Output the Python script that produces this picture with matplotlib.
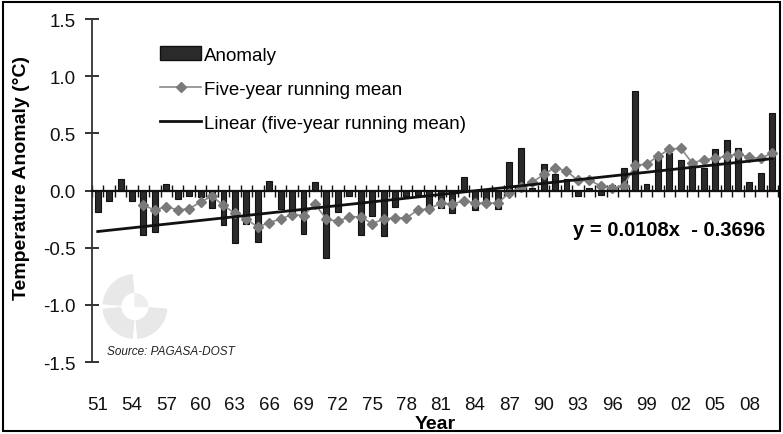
import matplotlib
matplotlib.use("Agg")
import matplotlib.pyplot as plt
import numpy as np
from matplotlib.patches import Rectangle, Wedge
from matplotlib.lines import Line2D

plt.rcParams['font.family'] = ['Liberation Sans', 'DejaVu Sans']
plt.rcParams['axes.unicode_minus'] = False

years = list(range(1951, 2011))
anomaly = [-0.19, -0.09, 0.10, -0.09, -0.39, -0.36, 0.06, -0.07, -0.05, -0.06,
           -0.15, -0.30, -0.46, -0.29, -0.45, 0.08, -0.16, -0.21, -0.38, 0.07,
           -0.59, -0.19, -0.05, -0.39, -0.22, -0.40, -0.14, -0.05, -0.04, -0.17,
           -0.15, -0.20, 0.12, -0.17, -0.13, -0.16, 0.25, 0.37, 0.02, 0.23,
           0.14, 0.10, -0.05, 0.02, -0.04, 0.05, 0.20, 0.87, 0.06, 0.31,
           0.33, 0.27, 0.23, 0.20, 0.36, 0.44, 0.37, 0.07, 0.15, 0.68]
running_mean = [None, None, None, None, -0.13, -0.17, -0.14, -0.17, -0.16, -0.10,
                -0.05, -0.13, -0.20, -0.25, -0.32, -0.28, -0.25, -0.21, -0.22, -0.12,
                -0.25, -0.27, -0.23, -0.23, -0.29, -0.25, -0.24, -0.24, -0.17, -0.16,
                -0.11, -0.12, -0.09, -0.11, -0.11, -0.11, -0.02, 0.03, 0.07, 0.14,
                0.20, 0.17, 0.09, 0.09, 0.04, 0.02, 0.04, 0.22, 0.23, 0.30,
                0.36, 0.37, 0.24, 0.27, 0.28, 0.30, 0.32, 0.29, 0.28, 0.33]
trend_slope = 0.0108
trend_intercept = -0.3696
tick_labels = ['51', '54', '57', '60', '63', '66', '69', '72', '75', '78',
               '81', '84', '87', '90', '93', '96', '99', '02', '05', '08']

W, H = 783, 435
fig = plt.figure(figsize=(W / 100, H / 100), dpi=100)
ax = fig.add_axes([92 / W, 1 - 363 / H, 686 / W, 343 / H])

idx = np.arange(len(years))
ax.bar(idx, anomaly, width=0.52, color='#2a2a2a', edgecolor='#111111', linewidth=0.8,
       label='Anomaly', zorder=3)
rm = np.array([np.nan if v is None else v for v in running_mean], dtype=float)
ax.plot(idx, rm, color='#8a8a8a', lw=1.2, marker='D', markersize=5.5,
        markerfacecolor='#7a7a7a', markeredgecolor='#7a7a7a',
        label='Five-year running mean', zorder=4)
tx = np.array([idx[0], idx[-1]])
ax.plot(tx, trend_slope * (tx + 1) + trend_intercept, color='#111111', lw=2,
        label='Linear (five-year running mean)', zorder=5)

ax.set_xlim(-0.5, len(years) - 0.5)
ax.set_ylim(-1.5, 1.5)
ax.set_yticks([-1.5, -1.0, -0.5, 0.0, 0.5, 1.0, 1.5])
ax.set_yticklabels(['-1.5', '-1.0', '-0.5', '0.0', '0.5', '1.0', '1.5'])
ax.tick_params(axis='y', direction='inout', length=10, width=1.2, pad=7,
               labelsize=13.5, colors='#111111')

# x axis at zero with boundary ticks
ax.spines['top'].set_visible(False)
ax.spines['right'].set_visible(False)
ax.spines['bottom'].set_position(('data', 0))
ax.spines['bottom'].set_linewidth(1.6)
ax.spines['bottom'].set_color('#111111')
ax.spines['bottom'].set_zorder(6)
ax.spines['left'].set_linewidth(1.3)
ax.spines['left'].set_color('#333333')
ax.set_xticks(np.arange(-0.5, len(years), 1.0))
ax.tick_params(axis='x', direction='inout', length=8, width=1, labelbottom=False,
               colors='#111111')

sec = ax.secondary_xaxis(-0.1)
sec.set_xticks(idx[::3])
sec.set_xticklabels(tick_labels)
sec.tick_params(length=0, pad=0, labelsize=13.5, colors='#111111')
sec.spines['bottom'].set_visible(False)
sec.set_xlabel('Year', fontsize=14, fontweight='bold', labelpad=1)

ax.set_ylabel('Temperature Anomaly (°C)', fontsize=14, fontweight='bold')
ax.yaxis.set_label_coords(-0.09, 0.54)

ax.text(0.701, 0.385, 'y = 0.0108x  - 0.3696', transform=ax.transAxes,
        fontsize=14.5, fontweight='bold', ha='left', va='center')
ax.text(0.022, 0.032, 'Source: PAGASA-DOST', transform=ax.transAxes,
        fontsize=8.5, fontstyle='italic', ha='left', va='center', color='#222222')

handles = [Rectangle((0, 0), 1, 1, facecolor='#2a2a2a', edgecolor='#111111'),
           Line2D([], [], color='#8a8a8a', lw=1.2, marker='D', markersize=5.5,
                  markerfacecolor='#7a7a7a', markeredgecolor='#7a7a7a'),
           Line2D([], [], color='#111111', lw=2)]
ax.legend(handles, ['Anomaly', 'Five-year running mean', 'Linear (five-year running mean)'],
          loc='upper left', bbox_to_anchor=(0.099, 0.92), frameon=False,
          fontsize=13.5, borderpad=0, borderaxespad=0, handlelength=2.2,
          handletextpad=0.15, labelspacing=0.9)

# faint logo watermark
lax = fig.add_axes([100 / W, 1 - 345 / H, 70 / W, 75 / H])
lax.set_xlim(-1.1, 1.1)
lax.set_ylim(-1.1, 1.1)
lax.set_aspect('equal')
lax.axis('off')
for t1, t2 in [(95, 175), (185, 265), (275, 355)]:
    lax.add_patch(Wedge((0, 0), 1.0, t1, t2, width=0.55, color='#e8e8e8'))
lax.add_patch(Wedge((0, 0), 0.4, 0, 90, color='#eeeeee'))

fig.add_artist(Rectangle((3 / W, 3 / H), 1 - 6 / W, 1 - 6 / H, transform=fig.transFigure,
                         fill=False, edgecolor='black', lw=1.5))

fig.savefig('out.png', dpi=100)
